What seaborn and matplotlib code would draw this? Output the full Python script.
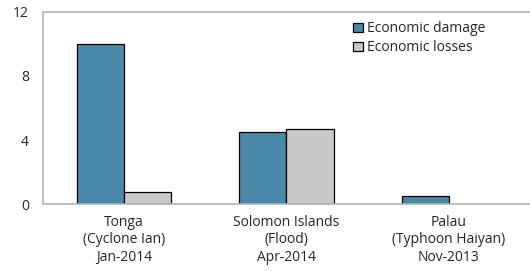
import numpy as np
import pandas as pd
import matplotlib
matplotlib.use("Agg")
import matplotlib.pyplot as plt
import seaborn as sns

categories = ["Tonga\n(Cyclone Ian)\nJan-2014",
              "Solomon Islands\n(Flood)\nApr-2014",
              "Palau\n(Typhoon Haiyan)\nNov-2013"]
damage = [10.0, 4.5, 0.5]
losses = [0.75, 4.7, 0.0]
series = ["Economic damage", "Economic losses"]
colors = ["#4a89aa", "#c8c8c8"]
yticks = [0, 4, 8, 12]

df = pd.DataFrame({
    "event": categories * 2,
    "value": damage + losses,
    "series": [series[0]] * 3 + [series[1]] * 3,
})

sns.set_style("white")
plt.rcParams["font.family"] = ["Open Sans", "DejaVu Sans"]

fig = plt.figure(figsize=(5.3, 2.71), dpi=100)
ax = fig.add_axes([0.081, 0.247, 0.919, 0.709])

sns.barplot(data=df, x="event", y="value", hue="series", palette=colors,
            saturation=1, width=0.58, edgecolor="black", linewidth=0.9, ax=ax)

# hide zero-height bars (Palau losses)
for cont in ax.containers:
    for p in cont.patches:
        if p.get_height() == 0:
            p.set_visible(False)

ax.set_ylim(0, 12)
ax.set_yticks(yticks)
ax.set_xlim(-0.5, 2.5)
ax.set_xticks([0.5, 1.5], minor=True)
ax.set_xlabel("")
ax.set_ylabel("")

for s in ["left", "top", "bottom"]:
    ax.spines[s].set_color("#b4b4b4")
    ax.spines[s].set_linewidth(1.2)
ax.spines["right"].set_visible(False)

ax.tick_params(axis="y", direction="in", length=3, color="#b4b4b4", labelsize=10, pad=10)
ax.tick_params(axis="x", which="major", length=0, labelsize=10, pad=8)
ax.tick_params(axis="x", which="minor", direction="in", length=4, color="#b4b4b4")
ax.grid(False)

ax.legend(loc="upper left", bbox_to_anchor=(0.625, 0.98), frameon=False, fontsize=10,
          handlelength=0.7, handleheight=0.7, handletextpad=0.3, labelspacing=0.3,
          borderaxespad=0)

fig.savefig("out.png", dpi=100)
